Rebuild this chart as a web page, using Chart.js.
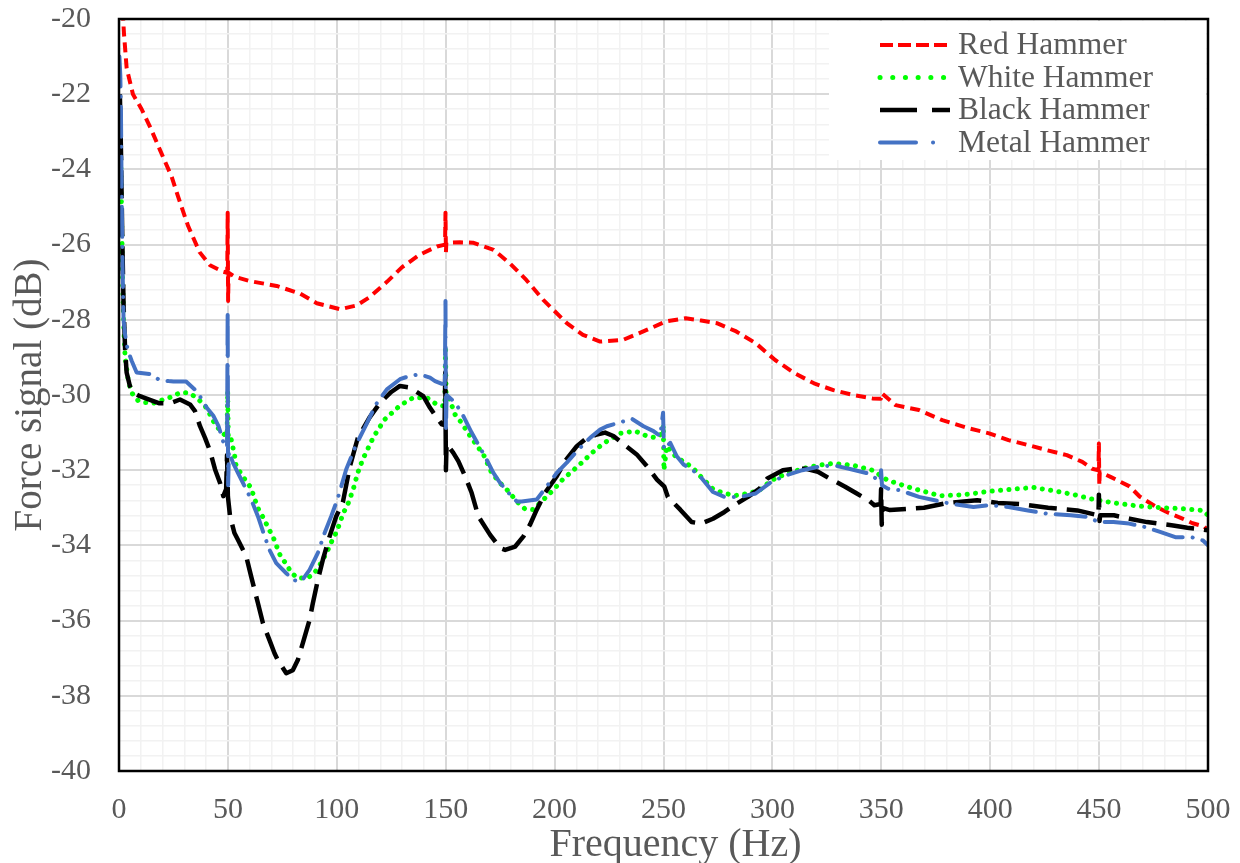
<!DOCTYPE html>
<html>
<head>
<meta charset="utf-8">
<title>Force signal</title>
<script src="https://cdn.jsdelivr.net/npm/chart.js@4.4.1/dist/chart.umd.min.js"></script>
<style>
  html, body { margin: 0; padding: 0; background: #fff; }
  #wrap { width: 1240px; height: 863px; }
</style>
</head>
<body>
<div id="wrap"><canvas id="forceChart" width="1240" height="863"></canvas></div>
<script>
// ---- spectrum data: frequency (Hz) and force level (dB) per hammer tip ----
var redFreq = [0.5, 1.5, 2.3, 3.5, 6.4, 10.4, 14.2, 18.8, 24.2, 27.1, 31.7, 37, 41.8, 47.8, 49.7, 49.9, 50.1, 50.3, 53, 60,
  72.4, 83, 90.8, 101.5, 109, 115, 123, 130, 138, 146, 149.7, 149.9, 150.1, 150.3, 156.6, 162.5, 172, 179.5, 187, 194.8,
  205.6, 213, 220.9, 231.6, 242.3, 251.25, 260.2, 267.3, 274.5, 283.4, 292.3, 301.25, 310.2, 319.1, 328, 337, 345.9, 349.8, 350.2, 356.6,
  367.3, 378, 390.5, 399.5, 408.4, 417.3, 426.25, 435.2, 442.3, 446.8, 449.7, 449.9, 450.1, 450.3, 455, 464, 468.6, 476, 482, 488,
  492.9, 498.2, 500];
var redDb = [-18.5, -19.6, -20.4, -21.3, -22.0, -22.4, -22.86, -23.48, -24.2, -24.72, -25.5, -26.2, -26.55, -26.72, -26.75, -25.15, -27.5, -26.75, -26.85, -26.97,
  -27.1, -27.3, -27.56, -27.72, -27.62, -27.4, -26.99, -26.6, -26.27, -26.05, -26.0, -25.15, -26.2, -25.95, -25.94, -25.95, -26.14, -26.5, -26.94, -27.47,
  -28.09, -28.4, -28.58, -28.53, -28.27, -28.04, -27.96, -28.02, -28.09, -28.31, -28.62, -29.07, -29.42, -29.69, -29.87, -30.0, -30.09, -30.1, -29.95, -30.27,
  -30.4, -30.67, -30.89, -31.02, -31.2, -31.33, -31.47, -31.6, -31.78, -31.96, -32.0, -31.29, -32.4, -32.05, -32.17, -32.43, -32.7, -32.97, -33.14, -33.28,
  -33.41, -33.5, -33.6];

var whiteFreq = [0.4, 1.0, 1.6, 2.2, 2.8, 4.3, 5.8, 8.9, 11.9, 15.8, 20.4, 24.2, 28, 31.8, 35.7, 39.5, 41.8, 44.1, 47.2, 49.6,
  49.9, 50.2, 51.5, 53, 53.8, 56.8, 60.6, 63.7, 66.3, 68.6, 70.9, 73.9, 77, 79.3, 82.3, 86.1, 89.2, 92.2, 95.3, 97.6,
  100, 103, 105.3, 107.6, 109.5, 112, 117, 122, 129, 135.1, 141.3, 145.9, 149.6, 149.9, 150.2, 151.2, 154.3, 157.3, 161.2, 165,
  167.3, 171.1, 175, 178.8, 182.6, 186.4, 190.3, 194.9, 199.5, 204, 208.6, 213.2, 217.1, 220.9, 224, 230.1, 237, 242.3, 247, 249.6,
  249.9, 250.2, 251.5, 256.1, 260, 263.8, 266.8, 272.7, 278, 283.4, 288.75, 294.1, 299.5, 304.8, 313.75, 320.9, 328, 337, 345.9, 353,
  362, 367.3, 377, 388, 400, 411, 420, 429.3, 438.5, 446, 456.8, 469, 479.6, 487, 497.8, 500];
var whiteDb = [-22.4, -24.5, -26.8, -28.2, -29.0, -29.63, -29.94, -30.16, -30.2, -30.22, -30.12, -30.05, -29.94, -29.94, -30.07, -30.29, -30.52, -30.78, -31.0, -31.1,
  -29.9, -31.2, -31.18, -31.58, -31.89, -32.16, -32.47, -33.0, -33.27, -33.54, -33.8, -34.25, -34.52, -34.74, -34.87, -34.87, -34.78, -34.52, -34.2, -33.9,
  -33.63, -33.14, -32.87, -32.5, -32.09, -31.7, -31.1, -30.65, -30.28, -30.07, -30.07, -30.25, -30.3, -28.8, -30.0, -30.02, -30.52, -30.74, -31.09, -31.4,
  -31.58, -32.07, -32.34, -32.56, -32.83, -33.03, -33.05, -32.78, -32.52, -32.23, -32.0, -31.76, -31.54, -31.36, -31.23, -31.02, -30.96, -31.09, -31.14, -31.0,
  -30.8, -32.0, -31.36, -31.67, -31.79, -31.96, -32.15, -32.5, -32.62, -32.67, -32.62, -32.53, -32.27, -32.13, -31.96, -31.87, -31.82, -31.87, -32.0, -32.27,
  -32.44, -32.53, -32.68, -32.65, -32.56, -32.5, -32.46, -32.55, -32.65, -32.76, -32.87, -32.96, -33.0, -33.02, -33.07, -33.2];

var blackFreq = [0.4, 0.9, 1.5, 2.1, 2.8, 3.5, 5, 6.6, 9.6, 14.2, 18.6, 23.4, 28, 32.6, 34.9, 37.2, 39.5, 41.8, 44.1, 46.4,
  47.9, 49.2, 49.6, 50, 51, 53, 54.6, 58.4, 60.7, 63.8, 66.1, 69.1, 71.4, 72.9, 76.8, 79.8, 82.1, 84.4, 87.5, 89,
  91.3, 93.6, 96.7, 99.7, 102.8, 106, 109.6, 115, 120, 125, 129, 133.6, 139.7, 142.8, 145.9, 148.2, 149.5, 149.8, 150.1, 150.4,
  153.5, 155.8, 158.9, 161.9, 165, 170.4, 175, 177.3, 181.9, 185.7, 188.7, 191.8, 195.6, 201, 204.8, 210.2, 214, 219.4, 223.2, 227,
  230.9, 237.7, 242.3, 247, 250.4, 252, 257.7, 262.9, 267.3, 272.7, 278, 282.5, 288.75, 294.1, 297.7, 304.8, 310.2, 315.5, 320.9, 326.25,
  333.4, 338.75, 344.1, 346.8, 349.7, 349.9, 350.2, 350.5, 354, 369.6, 380.3, 394, 403.5, 414, 426.6, 440, 449.7, 449.9, 450.2, 450.5,
  456.8, 464, 472, 484, 490.5, 495, 500];
var blackDb = [-22.0, -23.5, -25.8, -27.6, -28.78, -29.4, -29.76, -29.94, -30.03, -30.13, -30.22, -30.22, -30.12, -30.25, -30.43, -30.83, -31.14, -31.49, -31.98, -32.34,
  -32.69, -32.5, -31.6, -32.7, -33.23, -33.67, -33.85, -34.29, -34.83, -35.54, -36.07, -36.52, -36.87, -37.05, -37.4, -37.32, -37.05, -36.6, -35.98, -35.54,
  -34.92, -34.38, -33.76, -33.23, -32.85, -31.9, -31.15, -30.6, -30.2, -29.92, -29.76, -29.8, -30.03, -30.34, -30.6, -30.78, -30.8, -29.4, -32.0, -31.3,
  -31.54, -31.76, -32.16, -32.6, -33.23, -33.72, -34.07, -34.12, -34.03, -33.76, -33.45, -33.05, -32.6, -32.16, -31.76, -31.36, -31.18, -31.05, -31.0, -31.09,
  -31.27, -31.58, -31.89, -32.25, -32.44, -32.71, -33.05, -33.38, -33.42, -33.29, -33.11, -32.93, -32.71, -32.49, -32.22, -32.0, -31.96, -31.96, -32.04, -32.22,
  -32.44, -32.62, -32.8, -32.93, -32.9, -32.5, -33.45, -33.0, -33.06, -33.0, -32.87, -32.8, -32.87, -32.9, -33.0, -33.07, -33.2, -32.65, -33.35, -33.2,
  -33.2, -33.29, -33.38, -33.47, -33.53, -33.56, -33.6];

var metalFreq = [0.2, 0.6, 0.9, 1.2, 1.6, 2.1, 2.8, 4, 5.8, 8.1, 15, 18, 22.7, 25, 30.8, 36, 40.3, 43.4, 45.7, 48,
  49.6, 49.9, 50.1, 50.5, 52.3, 54.6, 57.7, 60.7, 63.8, 66.1, 69.1, 72.2, 76.8, 79.8, 83.7, 87.5, 91.3, 94.4, 97.4, 100.5,
  104.3, 108.9, 113, 118, 123, 129, 133.6, 138.2, 142.8, 145.1, 148, 149.6, 149.9, 150.1, 150.4, 154.3, 158.1, 161.9, 165, 168.8,
  171.9, 175, 178.8, 182.6, 184.9, 191.8, 196.4, 201, 205.6, 210.9, 216.3, 220.9, 224, 231.7, 235.4, 240.8, 245.4, 248.5, 249.8, 250.2,
  253.1, 256.1, 259.2, 263, 266.8, 272.7, 278, 285.2, 292.3, 299.5, 306.6, 313.75, 320.9, 328, 335.2, 344.1, 349.6, 349.9, 350.3, 353,
  358.4, 367.3, 374.5, 381.6, 392.3, 399.5, 408.4, 417.3, 426.25, 437, 444, 450, 456.6, 463.75, 470.9, 478, 485, 492.3, 497.7, 500];
var metalDb = [-21.0, -21.5, -22.5, -24.5, -26.5, -28.0, -28.4, -28.8, -29.09, -29.4, -29.45, -29.58, -29.63, -29.64, -29.64, -29.92, -30.34, -30.56, -30.83, -31.27,
  -31.4, -27.75, -32.4, -31.5, -31.8, -32.07, -32.43, -32.78, -33.23, -33.63, -34.12, -34.47, -34.74, -34.92, -34.96, -34.65, -34.2, -33.67, -33.23, -32.74,
  -31.98, -31.32, -30.85, -30.25, -29.85, -29.58, -29.49, -29.45, -29.54, -29.63, -29.7, -29.7, -27.5, -31.0, -30.0, -30.2, -30.56, -31.0, -31.32, -31.72,
  -32.07, -32.34, -32.6, -32.83, -32.83, -32.78, -32.43, -32.07, -31.8, -31.45, -31.14, -30.92, -30.83, -30.7, -30.63, -30.83, -30.96, -31.09, -30.47, -31.45,
  -31.27, -31.63, -31.85, -31.98, -32.16, -32.58, -32.71, -32.71, -32.62, -32.31, -32.13, -32.0, -31.91, -31.87, -31.96, -32.09, -32.3, -32.0, -32.4, -32.49,
  -32.53, -32.71, -32.8, -32.89, -32.98, -32.93, -32.98, -33.07, -33.16, -33.2, -33.24, -33.38, -33.38, -33.42, -33.51, -33.64, -33.78, -33.78, -33.87, -34.0];

// labelled ticks on both axes
var freqTicks = [0, 50, 100, 150, 200, 250, 300, 350, 400, 450, 500];
var dbTicks = [-40, -38, -36, -34, -32, -30, -28, -26, -24, -22, -20];

var serif = "'Liberation Serif', 'Times New Roman', Times, serif";
var textGray = '#595959';

function toPoints(fs, ds) {
    return fs.map(function(f, i) { return {x: f, y: ds[i]}; });
}

function isLabelled(list, v) {
    return list.some(function(t) { return Math.abs(t - v) < 1e-6; });
}

// legend samples use their own spacing (matches the key, not the plot)
var legendRows = [
    {label: 'Red Hammer',   color: '#ff0000', width: 4,   dash: [13, 5],            cap: 'butt'},
    {label: 'White Hammer', color: '#00ff00', width: 5,   dash: [0.1, 12.6],        cap: 'round'},
    {label: 'Black Hammer', color: '#000000', width: 4.5, dash: [37, 15],           cap: 'butt'},
    {label: 'Metal Hammer', color: '#4472c4', width: 4,   dash: [36, 17, 0.1, 17],  cap: 'round'}
];

// white key box in the top right corner of the plot
var legendBox = {
    id: 'legendBox',
    afterDraw: function(chart) {
        var c = chart.ctx;
        var area = chart.chartArea;
        var left = area.right - 379;
        var top = area.top + 2;
        c.save();
        c.fillStyle = '#ffffff';
        c.fillRect(left, top, 377, 139);
        c.font = '31.5px ' + serif;
        c.textBaseline = 'middle';
        c.fillStyle = textGray;
        legendRows.forEach(function(row, i) {
            var y = top + 24 + i * 32.5;
            c.beginPath();
            c.setLineDash(row.dash);
            c.lineCap = row.cap;
            c.lineWidth = row.width;
            c.strokeStyle = row.color;
            c.moveTo(left + 51, y);
            c.lineTo(left + 121, y);
            c.stroke();
            c.setLineDash([]);
            c.fillText(row.label, left + 129, y + 1);
        });
        c.restore();
    }
};

// black frame round the plot area, plus the x axis title set a little right of centre
var plotFrame = {
    id: 'plotFrame',
    afterDraw: function(chart) {
        var c = chart.ctx;
        var a = chart.chartArea;
        c.save();
        c.lineWidth = 2.5;
        c.strokeStyle = '#000';
        c.strokeRect(a.left, a.top, a.right - a.left, a.bottom - a.top);
        c.font = '40px ' + serif;
        c.fillStyle = textGray;
        c.textAlign = 'center';
        c.textBaseline = 'middle';
        c.fillText('Frequency (Hz)', (a.left + a.right) / 2 + 12, 845);
        c.restore();
    }
};

var ctx = document.getElementById('forceChart');
var forceChart = new Chart(ctx, {
    type: 'line',
    data: {
        datasets: [{
            label: 'Red Hammer',
            data: toPoints(redFreq, redDb),
            borderColor: '#ff0000',
            borderWidth: 4,
            borderDash: [10, 6],
            borderCapStyle: 'butt',
            order: 4
        }, {
            label: 'White Hammer',
            data: toPoints(whiteFreq, whiteDb),
            borderColor: '#00ff00',
            borderWidth: 5,
            borderDash: [0.1, 8.3],
            borderCapStyle: 'round',
            order: 3
        }, {
            label: 'Black Hammer',
            data: toPoints(blackFreq, blackDb),
            borderColor: '#000000',
            borderWidth: 4.5,
            borderDash: [28, 10],
            borderCapStyle: 'butt',
            order: 2
        }, {
            label: 'Metal Hammer',
            data: toPoints(metalFreq, metalDb),
            borderColor: '#4472c4',
            borderWidth: 4,
            borderDash: [30, 10, 0.1, 10],
            borderCapStyle: 'round',
            order: 1
        }]
    },
    options: {
        responsive: false,
        animation: false,
        devicePixelRatio: 1,
        layout: {
            padding: {left: 0, top: 19, right: 32, bottom: 0}
        },
        elements: {
            point: {radius: 0, hoverRadius: 0},
            line: {tension: 0, borderJoinStyle: 'round', fill: false}
        },
        plugins: {
            legend: {display: false},
            tooltip: {enabled: false}
        },
        scales: {
            x: {
                type: 'linear',
                min: 0,
                max: 500,
                afterFit: function(scale) {
                    // fixed band under the plot, no extra side padding
                    scale.height = 92;
                    scale.paddingLeft = 0;
                    scale.paddingRight = 0;
                },
                border: {display: false},
                grid: {
                    drawTicks: false,
                    color: function(c) { return isLabelled(freqTicks, c.tick.value) ? '#d9d9d9' : '#f2f2f2'; },
                    lineWidth: function(c) { return isLabelled(freqTicks, c.tick.value) ? 2 : 1.5; }
                },
                ticks: {
                    stepSize: 10,
                    autoSkip: false,
                    maxRotation: 0,
                    padding: 21,
                    color: textGray,
                    font: {family: serif, size: 30},
                    callback: function(v) { return isLabelled(freqTicks, v) ? String(Math.round(v)) : ''; }
                },
                title: {display: false}
            },
            y: {
                type: 'linear',
                min: -40,
                max: -20,
                afterFit: function(scale) {
                    scale.width = 119;
                    scale.paddingTop = 0;
                    scale.paddingBottom = 0;
                },
                border: {display: false},
                grid: {
                    drawTicks: false,
                    color: function(c) { return isLabelled(dbTicks, c.tick.value) ? '#d9d9d9' : '#f2f2f2'; },
                    lineWidth: function(c) { return isLabelled(dbTicks, c.tick.value) ? 2 : 1.5; }
                },
                ticks: {
                    stepSize: 0.4,
                    autoSkip: false,
                    padding: 28,
                    color: textGray,
                    font: {family: serif, size: 30},
                    callback: function(v) { return isLabelled(dbTicks, v) ? String(Math.round(v)) : ''; }
                },
                title: {
                    display: true,
                    text: 'Force signal (dB)',
                    color: textGray,
                    font: {family: serif, size: 39},
                    padding: {top: 7, bottom: 0}
                }
            }
        }
    },
    plugins: [legendBox, plotFrame]
});
</script>
</body>
</html>
